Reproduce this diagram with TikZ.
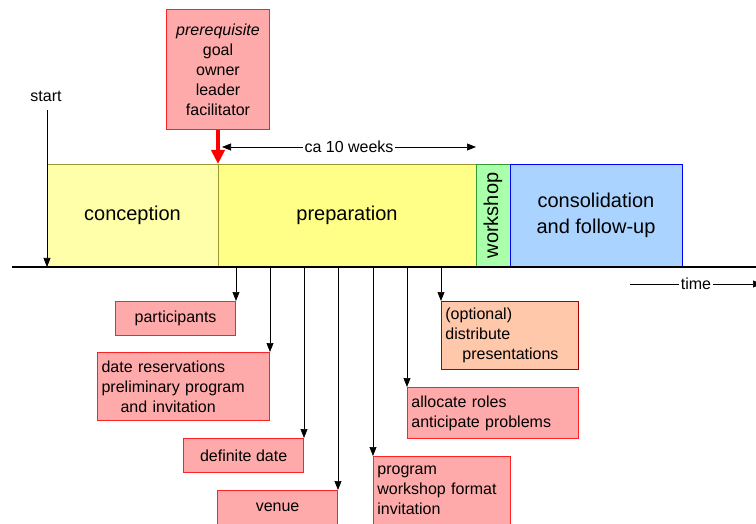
\documentclass[tikz,border=0pt]{standalone}
\usepackage{fontspec}
\setmainfont{Liberation Sans}
\usepackage{graphicx}
\usetikzlibrary{positioning,arrows.meta}

\definecolor{conceptionFill}{HTML}{FFFFAA}
\definecolor{preparationFill}{HTML}{FFFF88}
\definecolor{phaseBorder}{HTML}{999933}
\definecolor{workshopFill}{HTML}{AAFFAA}
\definecolor{workshopBorder}{HTML}{339933}
\definecolor{consolidationFill}{HTML}{AAD4FF}
\definecolor{taskFill}{HTML}{FFAAAA}
\definecolor{taskBorder}{HTML}{FF2222}
\definecolor{optionalFill}{HTML}{FFC8AA}
\definecolor{optionalBorder}{HTML}{AA0000}

\tikzstyle{phase} = [rectangle, draw=phaseBorder, line width=0.8pt, minimum height=103pt, inner sep=0pt, outer sep=0pt, text centered, font=\fontsize{20}{26}\selectfont]
\tikzstyle{task} = [rectangle, draw=taskBorder, fill=taskFill, line width=0.8pt, inner xsep=4pt, inner ysep=0pt, font=\fontsize{16}{20}\selectfont]
\tikzstyle{label} = [font=\fontsize{16}{20}\selectfont, fill=white, inner sep=2pt]
\tikzstyle{arrow} = [line width=0.7pt, ->, >={Triangle[length=9pt,width=7pt]}]
\tikzstyle{redArrow} = [line width=4pt, red, -{Triangle[length=14pt,width=13pt]}]

\begin{document}
\begin{tikzpicture}[x=1pt, y=-1pt]
	\useasboundingbox (0,0) rectangle (756,524);
	% phases
	\node (conception) [phase, fill=conceptionFill, minimum width=171pt, anchor=north west] at (47,164) {conception};
	\node (preparation) [phase, fill=preparationFill, minimum width=258pt, right=0pt of conception] {preparation};
	\node (workshop) [phase, fill=workshopFill, draw=workshopBorder, minimum width=34pt, right=0pt of preparation] {\rotatebox{90}{workshop}};
	\node (consolidation) [phase, fill=consolidationFill, draw=blue, minimum width=172pt, align=center, right=0pt of workshop] {consolidation\\and follow-up};
	\node (prerequisite) [task, minimum width=103pt, minimum height=120pt, align=center, above=34pt of preparation.north west] {\textit{prerequisite}\\goal\\owner\\leader\\facilitator};
	\node (startLabel) [label] at (46,96) {start};

	% time axis
	\coordinate (axisL) at (12,267);
	\coordinate (axisR) at (756,267);
	\draw [line width=2pt] (axisL) -- (axisR);
	\coordinate (timeStart) at (630,284);
	\coordinate (timeEnd) at (762,284);

	% tasks
	\node (participants) [task, minimum width=120pt, minimum height=34pt, anchor=north east] at (236,301) {participants};
	\node (dates) [task, text width=164pt, align=left, minimum height=68pt, anchor=north east] at (270,352) {date reservations\\preliminary program\\\hspace*{19pt}and invitation};
	\node (definiteDate) [task, minimum width=120pt, minimum height=34pt, anchor=north east] at (304,438) {definite date};
	\node (venue) [task, minimum width=120pt, minimum height=34pt, anchor=north east] at (338,490) {venue};
	\node (program) [task, text width=129pt, align=left, minimum height=68pt, anchor=north west] at (373,456) {program\\workshop format\\invitation};
	\node (allocateRoles) [task, text width=163pt, align=left, minimum height=51pt, anchor=north west] at (407,387) {allocate roles\\anticipate problems};
	\node (distribute) [task, draw=optionalBorder, fill=optionalFill, text width=129pt, align=left, minimum height=68pt, anchor=north west] at (441,301) {(optional)\\distribute\\\hspace*{17pt}presentations};

	\draw [arrow] ([yshift=-7pt]startLabel.south -| conception.west) -- (conception.south west);
	\draw [redArrow] (prerequisite) -- (preparation.north west);
	\draw [arrow, <->] ([xshift=4pt,yshift=17pt]preparation.north west) -- node (weeksLabel) [label] {ca 10 weeks} ([yshift=17pt]workshop.north west);
	\draw [arrow] (timeStart) -- node (timeLabel) [label] {time} (timeEnd);
	\draw [arrow] (participants.north east |- axisL) -- (participants.north east);
	\draw [arrow] (dates.north east |- axisL) -- (dates.north east);
	\draw [arrow] (definiteDate.north east |- axisL) -- (definiteDate.north east);
	\draw [arrow] (venue.north east |- axisL) -- (venue.north east);
	\draw [arrow] (program.north west |- axisL) -- (program.north west);
	\draw [arrow] (allocateRoles.north west |- axisL) -- (allocateRoles.north west);
	\draw [arrow] (distribute.north west |- axisL) -- (distribute.north west);

\end{tikzpicture}
\end{document}
